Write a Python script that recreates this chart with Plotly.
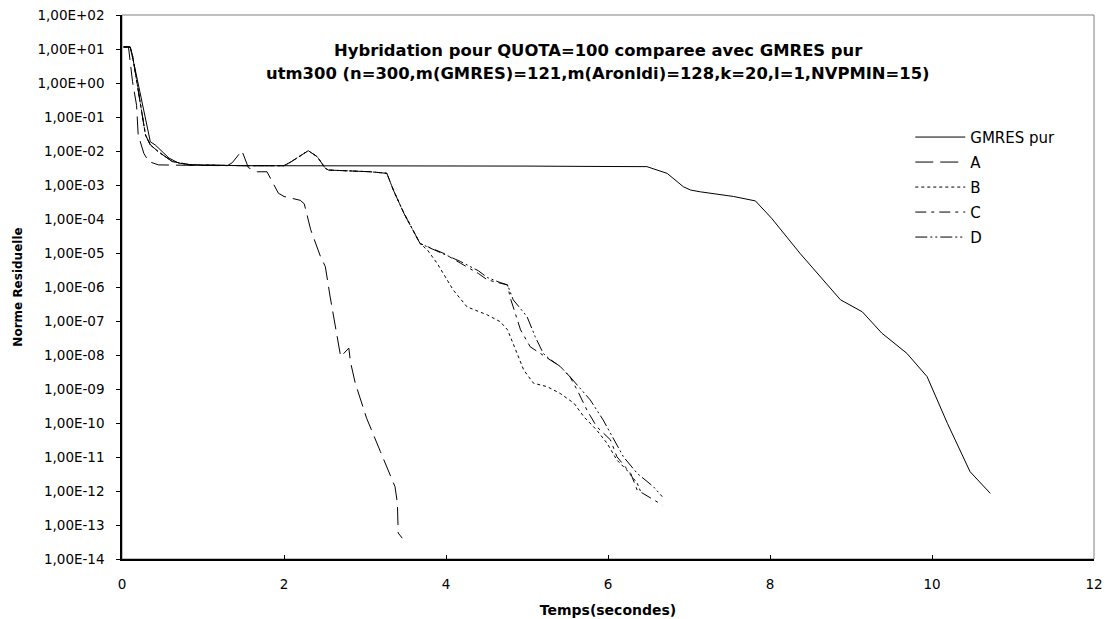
import plotly.graph_objects as go

# Temps (s) / norme residuelle pour GMRES pur
gmres_t = [0.02, 0.10, 0.16, 0.27, 0.35, 0.41, 0.58, 0.70, 0.86, 1.5, 3.0, 5.0, 6.0, 6.48,
           6.73, 6.93, 7.02, 7.14, 7.55, 7.82, 8.02, 8.37, 8.87, 9.14, 9.38, 9.69, 9.94,
           10.19, 10.47, 10.72]
gmres_r = [11.5, 11.5, 2.7, 0.145, 0.0186, 0.0151, 0.0062, 0.0044, 0.0039, 0.0037, 0.0037,
           0.0036, 0.0035, 0.00347, 0.0022, 0.00089, 0.00071, 0.00063, 0.00046, 0.00034,
           1.05e-4, 9.8e-6, 4.2e-7, 1.86e-7, 4.4e-8, 1.12e-8, 2.3e-9, 9.8e-11, 3.7e-12, 8.5e-13]

# Hybridation A
a_t = [0.02, 0.08, 0.13, 0.18, 0.20, 0.27, 0.33, 0.45, 0.8, 1.30, 1.36, 1.48, 1.56, 1.67,
       1.79, 1.87, 1.93, 2.0, 2.2, 2.25, 2.33, 2.45, 2.51, 2.57, 2.67, 2.70, 2.80, 2.82,
       2.88, 3.02, 3.19, 3.29, 3.37, 3.40, 3.41, 3.46]
a_r = [11.5, 11.5, 1.1, 0.22, 0.0295, 0.0085, 0.0049, 0.0039, 0.0038, 0.0037, 0.0045,
       0.0102, 0.00324, 0.00245, 0.00245, 0.00112, 5.75e-4, 4.6e-4, 3.55e-4, 2.8e-4, 4.8e-5,
       7.9e-6, 4.0e-6, 5.1e-7, 1.95e-8, 8.9e-9, 1.6e-8, 6.3e-9, 1.48e-9, 1.38e-10, 1.45e-11,
       3.7e-12, 1.35e-12, 4.4e-13, 5.8e-14, 4.1e-14]

# Debut commun des hybridations B, C et D
bcd_t = [0.02, 0.10, 0.13, 0.23, 0.29, 0.35, 0.45, 0.62, 0.85, 1.5, 2.0, 2.08, 2.30, 2.41,
         2.51, 2.55, 2.82, 3.07, 3.19, 3.27, 3.35, 3.48, 3.68]
bcd_r = [11.5, 11.5, 6.6, 0.22, 0.0295, 0.0151, 0.0095, 0.0049, 0.0039, 0.0037, 0.0037,
         0.0047, 0.0102, 0.0068, 0.0031, 0.00275, 0.00263, 0.00245, 0.0023, 0.0022, 7.1e-4,
         1.48e-4, 1.9e-5]

# Hybridation B
b_t = [3.77, 3.89, 4.09, 4.26, 4.51, 4.67, 4.76, 4.86, 4.96, 5.08, 5.25, 5.41, 5.58, 5.70,
       5.86, 5.99, 6.11, 6.23, 6.36, 6.40]
b_r = [1.23e-5, 5.0e-6, 8.1e-7, 2.6e-7, 1.51e-7, 9.5e-8, 5.5e-8, 1.41e-8, 3.6e-9, 1.48e-9,
       1.17e-9, 7.4e-10, 3.8e-10, 1.55e-10, 6.2e-11, 2.5e-11, 8.1e-12, 4.2e-12, 1.7e-12, 1.0e-12]

# Hybridation C
c_t = [3.81, 3.97, 4.18, 4.40, 4.51, 4.67, 4.76, 4.79, 4.87, 4.92, 5.04, 5.16, 5.27, 5.41,
       5.53, 5.62, 5.74, 5.86, 6.03, 6.11, 6.28, 6.36, 6.67]
c_r = [1.38e-5, 9.8e-6, 5.0e-6, 2.5e-6, 1.62e-6, 1.29e-6, 1.15e-6, 5.1e-7, 1.35e-7, 5.5e-8,
       1.74e-8, 1.12e-8, 7.9e-9, 4.6e-9, 2.3e-9, 9.3e-10, 2.4e-10, 7.8e-11, 3.2e-11, 1.02e-11,
       3.3e-12, 1.07e-12, 3.9e-13]

# Hybridation D
d_t = [3.81, 3.97, 4.18, 4.40, 4.51, 4.67, 4.76, 4.83, 5.00, 5.10, 5.20, 5.27, 5.41, 5.53,
       5.78, 5.94, 6.07, 6.19, 6.36, 6.56, 6.67]
d_r = [1.38e-5, 9.8e-6, 5.6e-6, 3.0e-6, 1.9e-6, 1.35e-6, 1.15e-6, 4.2e-7, 1.35e-7, 3.5e-8,
       1.12e-8, 7.9e-9, 4.6e-9, 2.3e-9, 4.8e-10, 1.23e-10, 3.2e-11, 1.02e-11, 3.3e-12,
       1.35e-12, 6.8e-13]

y_tickvals = [1e2, 1e1, 1e0, 1e-1, 1e-2, 1e-3, 1e-4, 1e-5, 1e-6, 1e-7, 1e-8, 1e-9, 1e-10,
              1e-11, 1e-12, 1e-13, 1e-14]
y_ticktext = ["1,00E+02", "1,00E+01", "1,00E+00", "1,00E-01", "1,00E-02", "1,00E-03",
              "1,00E-04", "1,00E-05", "1,00E-06", "1,00E-07", "1,00E-08", "1,00E-09",
              "1,00E-10", "1,00E-11", "1,00E-12", "1,00E-13", "1,00E-14"]

title_lines = ["Hybridation pour QUOTA=100 comparee avec GMRES pur",
               "utm300 (n=300,m(GMRES)=121,m(Aronldi)=128,k=20,l=1,NVPMIN=15)"]

FONT = "DejaVu Sans"

series = [
    ("GMRES pur", gmres_t, gmres_r, "solid"),
    ("A", a_t, a_r, "18px,7px"),
    ("B", bcd_t + b_t, bcd_r + b_r, "3px,3px"),
    ("C", bcd_t + c_t, bcd_r + c_r, "11px,5px,3px,5px"),
    ("D", bcd_t + d_t, bcd_r + d_r, "12px,3px,2px,3px,2px,3px"),
]

fig = go.Figure()
for name, t, r, dash in series:
    fig.add_trace(go.Scatter(
        x=t, y=r, name=name, mode="lines", legendgroup=name,
        line=dict(color="black", width=1, dash=dash),
    ))

W, H = 1106, 619
L, R, T, B = 122, 12, 15, 60

fig.update_layout(
    width=W, height=H,
    margin=dict(l=L, r=R, t=T, b=B, autoexpand=False),
    paper_bgcolor="white", plot_bgcolor="white",
    font=dict(family=FONT, size=13, color="black"),
    showlegend=True,
    legend=dict(
        x=0.811, y=0.8055, xanchor="left", yanchor="top",
        bgcolor="rgba(0,0,0,0)", borderwidth=0,
        font=dict(family=FONT, size=15, color="black"),
        tracegroupgap=2.5, traceorder="grouped", itemwidth=50,
    ),
    xaxis=dict(
        range=[0, 12], tickvals=[0, 2, 4, 6, 8, 10, 12],
        ticks="inside", ticklen=4, tickcolor="black",
        showgrid=False, zeroline=False, automargin=False,
        showline=True, linecolor="black", linewidth=1.5,
        ticklabelstandoff=12,
        tickfont=dict(family=FONT, size=13.5),
        title=dict(text="<b>Temps(secondes)</b>", font=dict(family=FONT, size=14), standoff=14),
    ),
    yaxis=dict(
        type="log", range=[-14, 2],
        tickvals=y_tickvals, ticktext=y_ticktext,
        ticks="outside", ticklen=4, tickcolor="black",
        showgrid=False, zeroline=False, automargin=False,
        showline=True, linecolor="black", linewidth=1.5,
        ticklabelstandoff=9,
        tickfont=dict(family=FONT, size=13.5),
        title=dict(text="<b>Norme Residuelle</b>", font=dict(family=FONT, size=12), standoff=12),
    ),
    shapes=[dict(type="rect", xref="paper", yref="paper", x0=0, y0=0, x1=1, y1=1,
                 line=dict(color="#808080", width=1), layer="below")],
)

# Titre sur deux lignes, dans la zone de trace
for i, line in enumerate(title_lines):
    fig.add_annotation(
        text="<b>" + line + "</b>", xref="paper", yref="paper",
        x=(598 - L) / (W - L - R), y=1 - (50 + 24 * i - T) / (H - T - B),
        xanchor="center", yanchor="middle", showarrow=False,
        font=dict(family=FONT, size=16.4, color="black"),
    )

fig.write_html("out.html")
